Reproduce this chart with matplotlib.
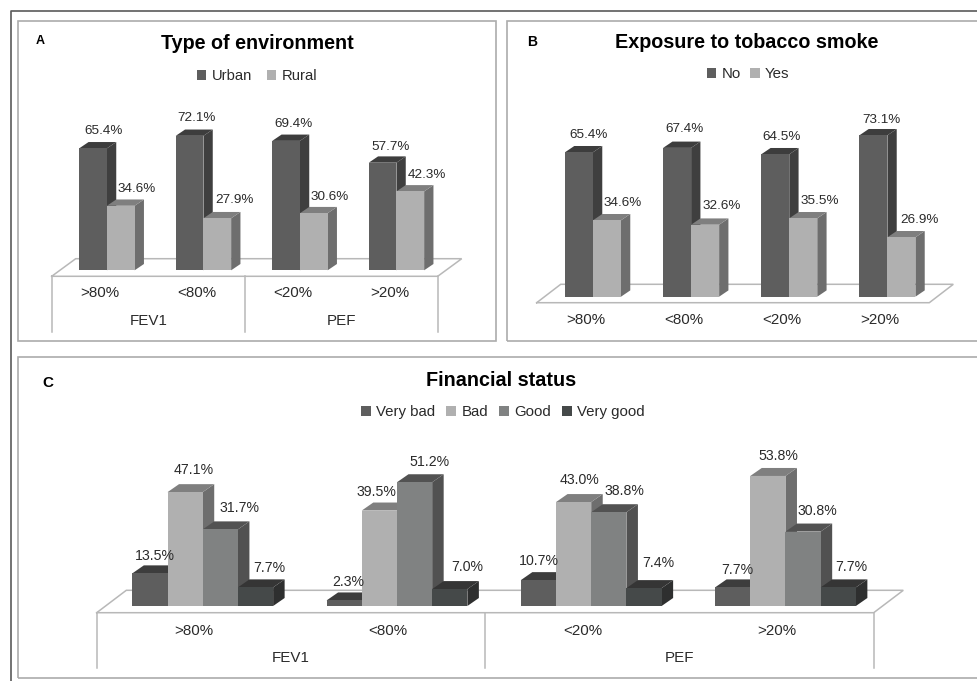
import matplotlib
matplotlib.use("Agg")
import matplotlib.pyplot as plt
from matplotlib.lines import Line2D
from matplotlib.patches import Patch, Rectangle

plt.rcParams["font.family"] = ["Liberation Sans", "DejaVu Sans"]

FIG_W, FIG_H, DPI = 978, 681, 100
PT = 72 / DPI  # points per pixel

# Shared categories
thresholds = [">80%", "<80%", "<20%", ">20%"]
groups = ["FEV1", "PEF"]

# Panel A: type of environment
env_urban = [65.4, 72.1, 69.4, 57.7]
env_rural = [34.6, 27.9, 30.6, 42.3]

# Panel B: exposure to tobacco smoke
smoke_no = [65.4, 67.4, 64.5, 73.1]
smoke_yes = [34.6, 32.6, 35.5, 26.9]

# Panel C: financial status
fin_very_bad = [13.5, 2.3, 10.7, 7.7]
fin_bad = [47.1, 39.5, 43.0, 53.8]
fin_good = [31.7, 51.2, 38.8, 30.8]
fin_very_good = [7.7, 7.0, 7.4, 7.7]

# Shades per series: front, side and top faces
DARK = ("#5e5e5e", "#3f3f3f", "#3d3d3d")
LIGHT = ("#b0b0b0", "#6e6e6e", "#7f7f7f")
MID = ("#808282", "#515151", "#525252")
DARKEST = ("#454949", "#2e2f2f", "#353535")

LINE = "#b8b8b8"
FRAME = "#acacac"
TEXT = "#2a2a2a"

fig = plt.figure(figsize=(FIG_W / DPI, FIG_H / DPI), dpi=DPI, facecolor="white")


def fx(px):
    return px / FIG_W


def fy(py):
    return 1 - py / FIG_H


def frame(x0, y0, x1, y1, color=FRAME, lw=1.2):
    fig.add_artist(Rectangle((fx(x0), fy(y1)), fx(x1 - x0), fy(y0) - fy(y1),
                             transform=fig.transFigure, fill=False,
                             edgecolor=color, linewidth=lw))


def draw_panel(series, names, styles, nudges, title, letter, geo):
    """Draw one pseudo-3D clustered column chart from its series values."""
    left, right, base = geo["left"], geo["right"], geo["base"]
    per_pct = geo["per_pct"]
    top_px = base - 120
    ymax = (base - top_px) / per_pct
    ax = fig.add_axes([fx(left), fy(base), fx(right - left), fy(top_px) - fy(base)])
    ax.set_xlim(-0.5, 3.5)
    ax.set_ylim(0, ymax)
    ax.axis("off")
    ax.patch.set_alpha(0)

    per_cat = (right - left) / 4
    bar_w = geo["bar_w"] / per_cat
    shift = geo["shift"] / per_cat
    dx = geo["depth_x"] / per_cat
    dy = geo["depth_y"] / per_pct
    n = len(series)

    # Floor of the plot
    front = -geo["floor_front"] / per_pct
    back = geo["floor_back"] / per_pct
    inset = geo["floor_dx"] / per_cat
    ax.plot([-0.5, 3.5, 3.5 + inset, -0.5 + inset, -0.5],
            [front, front, back, back, front],
            color=LINE, lw=1.1, clip_on=False, zorder=1, solid_joinstyle="miter")

    # Columns, left to right so that nearer faces overlap earlier ones
    z = 2
    for c in range(4):
        for s, values in enumerate(series):
            v = values[c]
            x0 = c + shift + (s - n / 2) * bar_w
            x1 = x0 + bar_w
            col_front, col_side, col_top = styles[s]
            ax.fill([x1, x1 + dx, x1 + dx, x1], [0, dy, v + dy, v],
                    color=col_side, lw=0, clip_on=False, zorder=z)
            ax.fill([x0, x1, x1 + dx, x0 + dx], [v, v, v + dy, v + dy],
                    color=col_top, lw=0, clip_on=False, zorder=z)
            ax.bar(x0, v, width=bar_w, align="edge", color=col_front,
                   lw=0, clip_on=False, zorder=z + 0.5)
            z += 1

    # Value labels sit above the columns
    for c in range(4):
        for s, values in enumerate(series):
            v = values[c]
            xc = c + shift + (s - n / 2 + 0.5) * bar_w
            ox, oy = nudges[s][c]
            ax.annotate(f"{v:.1f}%", (xc, v), xytext=(ox * PT, oy * PT),
                        textcoords="offset points", ha="center", va="center",
                        fontsize=geo["val_fs"], color=TEXT, zorder=100,
                        annotation_clip=False)

    # Category labels under the floor
    for c, lab in enumerate(thresholds):
        ax.annotate(lab, (c, 0), xytext=(0, -geo["lab_y"] * PT),
                    textcoords="offset points", ha="center", va="center",
                    fontsize=geo["lab_fs"], color=TEXT, annotation_clip=False)

    # Two-level axis table with FEV1 / PEF groups
    if geo.get("table"):
        bottom = -geo["table"] / per_pct
        for xv in (-0.5, 1.5, 3.5):
            ax.plot([xv, xv], [front, bottom], color=LINE, lw=1.1, clip_on=False)
        for g, lab in enumerate(groups):
            ax.annotate(lab, (0.5 + 2 * g + geo["group_shift"][g] / per_cat, 0),
                        xytext=(0, -geo["group_y"] * PT), textcoords="offset points",
                        ha="center", va="center", fontsize=geo["lab_fs"],
                        color=TEXT, annotation_clip=False)

    # Title, panel letter and legend
    fig.text(fx(geo["title_x"]), fy(geo["title_y"]), title, ha="center", va="center",
             fontsize=geo["title_fs"], fontweight="bold", color="black")
    fig.text(fx(geo["letter_x"]), fy(geo["letter_y"]), letter, ha="center", va="center",
             fontsize=geo["letter_fs"], fontweight="bold", color="black")
    handles = [Patch(facecolor=st[0], edgecolor="none", label=nm)
               for st, nm in zip(styles, names)]
    fig.legend(handles=handles, ncol=len(names), frameon=False, loc="center",
               bbox_to_anchor=(fx(geo["leg_x"]), fy(geo["leg_y"])),
               fontsize=geo["leg_fs"], labelcolor=TEXT, handlelength=0.65,
               handleheight=0.65, handletextpad=0.35,
               columnspacing=geo["leg_gap"], borderpad=0, borderaxespad=0)


# Hand-tuned label offsets (pixels right, pixels up) for each series and category
two_dark = [(10, 17.5), (7, 17.5), (7.3, 17), (8, 16)]
two_light = [(16.3, 17), (17, 18.5), (16, 16.5), (16.7, 16.5)]
smoke_dark = [(9.3, 17.5), (7, 18.4), (6.7, 17), (8, 15.3)]
smoke_light = [(15.3, 17.3), (17, 18.7), (16.7, 17), (18, 17)]
fin_nudges = [
    [(4.7, 17.7), (4.4, 18.4), (0, 19), (4.7, 17)],
    [(9, 21.7), (-3.4, 18.2), (5.8, 22.3), (10.9, 20.3)],
    [(18.7, 21.7), (15, 20), (15.3, 21.2), (14, 20.6)],
    [(13.8, 19), (17.2, 21.7), (14, 24.8), (12.8, 20.7)],
]

# Outer border and panel frames
fig.add_artist(Line2D([fx(11), fx(11), 1], [0, fy(10.5), fy(10.5)],
                      transform=fig.transFigure, color="#5a5a5a", lw=1.2))
frame(18, 20.5, 496.5, 340.5)
frame(506.7, 20.5, 985, 340.5)
frame(18, 357, 985, 677.5)

draw_panel(
    [env_urban, env_rural], ["Urban", "Rural"], [DARK, LIGHT],
    [two_dark, two_light], "Type of environment", "A",
    dict(left=51.7, right=437.7, base=270.3, per_pct=1.865, bar_w=27.7, shift=7,
         depth_x=9.3, depth_y=6.3, floor_front=6, floor_back=11.6, floor_dx=24,
         val_fs=9.7, lab_fs=10.9, lab_y=22.7, table=61.4, group_y=50.7,
         group_shift=(0, 0), title_x=257.5, title_y=43.5, title_fs=14.2,
         letter_x=40.5, letter_y=41, letter_fs=9, leg_x=257, leg_y=76,
         leg_fs=10.6, leg_gap=1.0))

draw_panel(
    [smoke_no, smoke_yes], ["No", "Yes"], [DARK, LIGHT],
    [smoke_dark, smoke_light], "Exposure to tobacco smoke", "B",
    dict(left=536.7, right=929.3, base=296.7, per_pct=2.208, bar_w=28, shift=7.2,
         depth_x=9.3, depth_y=6.3, floor_front=6, floor_back=12.4, floor_dx=24,
         val_fs=9.7, lab_fs=10.9, lab_y=22.8, title_x=746.5, title_y=42.5,
         title_fs=14.2, letter_x=532, letter_y=41.5, letter_fs=10, leg_x=748,
         leg_y=74.5, leg_fs=10.8, leg_gap=0.6))

draw_panel(
    [fin_very_bad, fin_bad, fin_good, fin_very_good],
    ["Very bad", "Bad", "Good", "Very good"], [DARK, LIGHT, MID, DARKEST],
    fin_nudges, "Financial status", "C",
    dict(left=96.7, right=873.7, base=606, per_pct=2.417, bar_w=35.2, shift=8.9,
         depth_x=11.5, depth_y=8, floor_front=6.7, floor_back=15.7, floor_dx=29.6,
         val_fs=10.2, lab_fs=10.9, lab_y=24.7, table=61.7, group_y=51.7,
         group_shift=(-0.5, 0), title_x=501, title_y=380, title_fs=14.2,
         letter_x=47.5, letter_y=383, letter_fs=11, leg_x=503, leg_y=412,
         leg_fs=10.8, leg_gap=0.75))

fig.savefig("out.png", dpi=DPI, facecolor="white")
